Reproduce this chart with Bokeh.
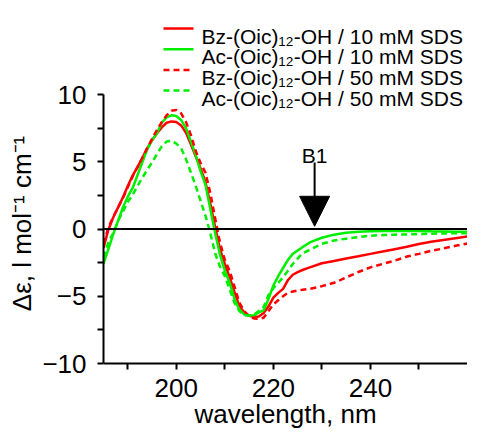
from bokeh.plotting import figure
from bokeh.models import Range1d, FixedTicker, Span, Arrow, NormalHead, Label
from bokeh.embed import file_html
from bokeh.resources import INLINE

# ---- data ----
wavelength = [185, 186, 187, 188, 189, 190, 191, 192, 193, 194, 195, 196, 197, 198, 199,
              200, 201, 202, 203, 204, 205, 206, 207, 208, 209, 210, 211, 212, 213, 214,
              215, 216, 217, 218, 219, 220, 221, 222, 223, 224, 225, 226, 227.5, 230,
              232.5, 235, 237.5, 240, 242.5, 245, 247.5, 250, 252.5, 255, 257.5, 260]

bz_10 = [-1.4, -0.05, 0.85, 1.6, 2.35, 3.2, 3.97, 4.6, 5.27, 6.0, 6.6, 7.1, 7.55, 7.9, 8.0,
         7.95, 7.7, 7.15, 6.3, 5.4, 4.5, 3.5, 1.9, 0.15, -1.5, -2.6, -3.6, -4.7, -5.75, -6.2,
         -6.45, -6.53, -6.5, -6.25, -5.75, -5.1, -4.75, -4.45, -3.8, -3.4, -3.2, -3.05, -2.85, -2.55,
         -2.38, -2.2, -2.03, -1.85, -1.68, -1.5, -1.32, -1.12, -0.95, -0.82, -0.68, -0.55]

ac_10 = [-2.6, -1.5, -0.4, 0.6, 1.6, 2.4, 3.05, 4.0, 4.95, 5.9, 6.6, 7.1, 7.9, 8.3, 8.45,
         8.4, 8.1, 7.5, 6.5, 5.5, 4.3, 3.3, 1.5, -0.3, -1.9, -3.1, -4.0, -5.2, -6.0, -6.35,
         -6.43, -6.42, -6.2, -6.05, -5.2, -4.2, -3.5, -2.9, -2.3, -1.85, -1.6, -1.35, -1.0, -0.65,
         -0.42, -0.28, -0.2, -0.17, -0.15, -0.15, -0.15, -0.15, -0.17, -0.18, -0.2, -0.2]

bz_50 = [-1.1, 0.1, 0.9, 1.6, 2.3, 3.1, 3.9, 4.6, 5.3, 6.0, 6.7, 7.35, 7.95, 8.45, 8.8,
         8.85, 8.6, 7.95, 7.0, 5.8, 4.9, 4.2, 2.7, 0.8, -1.0, -2.3, -3.12, -4.3, -5.48, -6.1,
         -6.5, -6.65, -6.67, -6.6, -6.1, -5.6, -5.3, -5.0, -4.75, -4.65, -4.58, -4.52, -4.45, -4.25,
         -4.0, -3.6, -3.2, -2.85, -2.6, -2.35, -2.05, -1.85, -1.62, -1.45, -1.25, -1.08]

ac_50 = [-2.1, -1.0, -0.3, 0.6, 1.3, 2.0, 2.55, 3.2, 3.8, 4.4, 4.95, 5.55, 6.15, 6.5, 6.55,
         6.35, 6.0, 5.2, 4.2, 3.2, 2.1, 1.0, -0.3, -1.8, -2.8, -3.5, -4.5, -5.5, -6.1, -6.4,
         -6.43, -6.35, -6.1, -5.8, -4.9, -4.4, -4.0, -3.6, -3.1, -2.6, -2.2, -1.8, -1.55, -1.1,
         -0.85, -0.72, -0.6, -0.5, -0.45, -0.42, -0.4, -0.38, -0.35, -0.33, -0.32, -0.32]

series_labels = ["Bz-(Oic)\u2081\u2082-OH / 10 mM SDS",
                 "Ac-(Oic)\u2081\u2082-OH / 10 mM SDS",
                 "Bz-(Oic)\u2081\u2082-OH / 50 mM SDS",
                 "Ac-(Oic)\u2081\u2082-OH / 50 mM SDS"]
series_values = [bz_10, ac_10, bz_50, ac_50]
series_colors = ["#ff0000", "#00ee00", "#ff0000", "#00ee00"]
series_dashes = ["solid", "solid", "6 4", "6 4"]

x_ticks = [200, 220, 240]
x_minor = [190, 210, 230, 250]
y_ticks = [-10, -5, 0, 5, 10]
y_minor = [-7.5, -2.5, 2.5, 7.5]
y_axis_bounds = (-10, 10)
x_axis_at = -10

band_label = "B1"
band_x = 228.5

FONT = "Liberation Sans"

# ---- layout (canvas pixels) ----
W, H = 467, 432
LEFT, TOP = 103, 14          # frame left / top border
X0, X1 = 185, 260            # wavelength range across the frame
PX_Y10, PX_YM10 = 94, 363    # canvas rows of y = +10 and y = -10
ppu = (PX_YM10 - PX_Y10) / 20.0
Y_TOP = 10 + (PX_Y10 - TOP) / ppu
Y_BOT = -10 - (H - PX_YM10) / ppu
ppx = (W - LEFT) / (X1 - X0)


def xd(cx):  # canvas x -> data x
    return X0 + (cx - LEFT) / ppx


def yd(cy):  # canvas y -> data y
    return 10 - (cy - PX_Y10) / ppu


p = figure(width=W, height=H, x_range=Range1d(X0, X1), y_range=Range1d(Y_BOT, Y_TOP),
           output_backend="svg", toolbar_location=None,
           min_border_left=LEFT, min_border_right=0, min_border_top=TOP, min_border_bottom=0)
p.outline_line_color = None
p.xgrid.visible = False
p.ygrid.visible = False

for vals, col, dash in zip(series_values, series_colors, series_dashes):
    p.line(wavelength, vals, line_color=col, line_width=2.5, line_dash=dash)

p.add_layout(Span(location=0, dimension="width", line_color="black", line_width=2))

for ax in (p.xaxis[0], p.yaxis[0]):
    ax.axis_line_width = 2
    ax.major_tick_line_width = 2
    ax.minor_tick_line_width = 2
    ax.major_tick_in = 0
    ax.major_tick_out = 6
    ax.minor_tick_in = 0
    ax.minor_tick_out = 6
    ax.major_label_text_font = FONT
    ax.major_label_text_font_size = "26px"
    ax.major_label_text_color = "black"
    ax.axis_label_text_font = FONT
    ax.axis_label_text_font_size = "26px"
    ax.axis_label_text_font_style = "normal"
    ax.axis_label_text_color = "black"

p.xaxis.fixed_location = x_axis_at
p.yaxis.bounds = y_axis_bounds
p.xaxis.ticker = FixedTicker(ticks=x_ticks, minor_ticks=x_minor)
p.yaxis.ticker = FixedTicker(ticks=y_ticks, minor_ticks=y_minor)
p.yaxis.major_label_overrides = {-10: "\u221210", -5: "\u22125"}
p.xaxis.axis_label = "wavelength, nm"
p.yaxis.axis_label = "\u0394\u03b5, l mol\u207b\u00b9 cm\u207b\u00b9"
p.xaxis.major_label_standoff = 9
p.xaxis.axis_label_standoff = -1
p.yaxis.major_label_standoff = 11
p.yaxis.axis_label_standoff = 2

# band marker
p.add_layout(Arrow(end=NormalHead(size=30, fill_color="black", line_color="black", line_width=1),
                   x_start=band_x, y_start=yd(162), x_end=band_x, y_end=0.2,
                   line_width=2, line_color="black"))
p.add_layout(Label(x=band_x, y=yd(155), text=band_label, text_align="center",
                   text_baseline="alphabetic", text_font=FONT, text_font_size="21px",
                   text_color="black"))

# legend
row_centers = [28, 48.7, 69.4, 90]
LEG_LINE = (163, 193)
LEG_TEXT = 201
for cy, lab, col, dash in zip(row_centers, series_labels, series_colors, series_dashes):
    p.add_layout(Arrow(end=None, x_start=xd(LEG_LINE[0]), y_start=yd(cy),
                       x_end=xd(LEG_LINE[1]), y_end=yd(cy),
                       line_color=col, line_width=2.5, line_dash=dash))
    p.add_layout(Label(x=xd(LEG_TEXT), y=yd(cy + 7.5), text=lab,
                       text_align="left", text_baseline="alphabetic", text_font=FONT,
                       text_font_size="21px", text_color="black"))

open("out.html", "w").write(file_html(p, INLINE))
